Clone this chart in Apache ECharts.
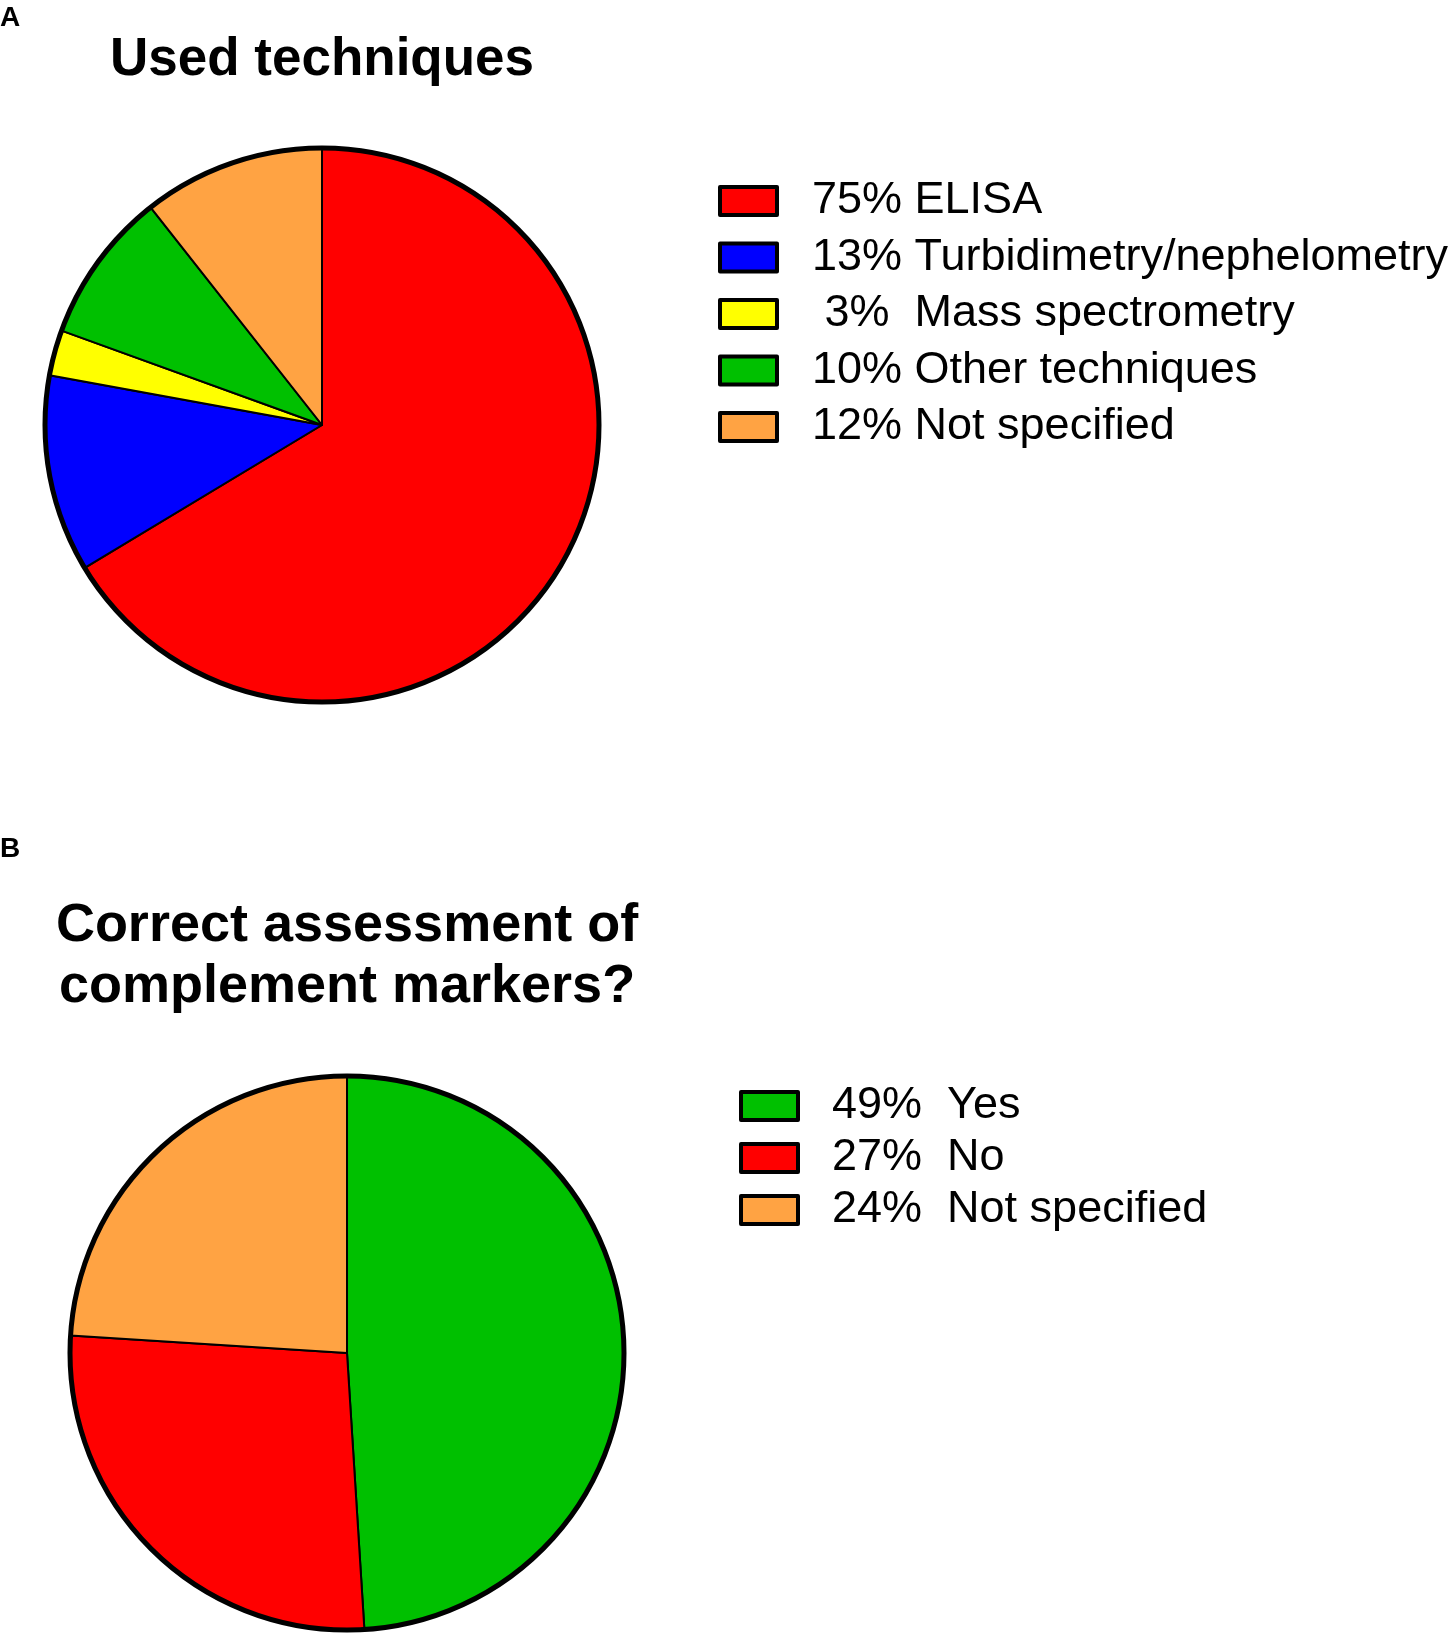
<!DOCTYPE html>
<html>
<head>
<meta charset="utf-8">
<script src="https://cdn.jsdelivr.net/npm/echarts@6/dist/echarts.min.js"></script>
<style>
html,body{margin:0;padding:0;background:#fff;}
#chart{width:1455px;height:1639px;}
</style>
</head>
<body>
<div id="chart"></div>
<script>
// Panel A: used techniques
const techCategories = ['ELISA', 'Turbidimetry/nephelometry', 'Mass spectrometry', 'Other techniques', 'Not specified'];
const techValues = [75, 13, 3, 10, 12];
const techPctLabels = ['75%', '13%', ' 3% ', '10%', '12%'];
const techColors = ['#FF0000', '#0000FF', '#FFFF00', '#00C000', '#FFA343'];

// Panel B: correct assessment of complement markers
const assessCategories = ['Yes', 'No', 'Not specified'];
const assessValues = [49, 27, 24];
const assessPctLabels = ['49%', '27%', '24%'];
const assessColors = ['#00C000', '#FF0000', '#FFA343'];

const FONT = '"Liberation Sans", Arial, Helvetica, sans-serif';

const chart = echarts.init(document.getElementById('chart'), null, {renderer: 'canvas'});

const techMap = {};
techCategories.forEach((c, i) => techMap[c] = techPctLabels[i] + ' ' + c);
const assessMap = {};
assessCategories.forEach((c, i) => assessMap['B_' + c] = assessPctLabels[i] + '  ' + c);

function pieData(cats, vals, cols, prefix) {
  return cats.map((c, i) => ({name: prefix + c, value: vals[i], itemStyle: {color: cols[i]}}));
}

const option = {
  backgroundColor: '#ffffff',
  animation: false,
  graphic: [
    {type: 'text', left: 0, top: 4, style: {text: 'A', font: 'bold 28px ' + FONT, fill: '#000'}},
    {type: 'text', left: 0, top: 835, style: {text: 'B', font: 'bold 28px ' + FONT, fill: '#000'}},
    {type: 'text', x: 322, y: 60, style: {text: 'Used techniques', font: 'bold 53px ' + FONT, fill: '#000', textAlign: 'center', textVerticalAlign: 'middle'}},
    {type: 'text', x: 347, y: 957, style: {text: 'Correct assessment of\ncomplement markers?', font: 'bold 54px ' + FONT, lineHeight: 61, fill: '#000', textAlign: 'center', textVerticalAlign: 'middle'}}
  ],
  legend: [
    {
      orient: 'vertical', left: 713, top: 171,
      data: techCategories,
      icon: 'rect', itemWidth: 57, itemHeight: 28, itemGap: 6.5,
      itemStyle: {borderColor: '#000', borderWidth: 4},
      selectedMode: false,
      formatter: n => techMap[n],
      textStyle: {fontFamily: FONT, fontSize: 45, color: '#000', lineHeight: 50, padding: [0, 0, 0, 30]}
    },
    {
      orient: 'vertical', left: 734, top: 1076,
      data: assessCategories.map(c => 'B_' + c),
      icon: 'rect', itemWidth: 57, itemHeight: 28, itemGap: 2,
      itemStyle: {borderColor: '#000', borderWidth: 4},
      selectedMode: false,
      formatter: n => assessMap[n],
      textStyle: {fontFamily: FONT, fontSize: 45, color: '#000', lineHeight: 50, padding: [0, 0, 0, 29]}
    }
  ],
  series: [
    {
      type: 'pie', center: [322, 425], radius: [0, 277], startAngle: 90, clockwise: true,
      label: {show: false}, labelLine: {show: false}, silent: true,
      itemStyle: {borderColor: '#000', borderWidth: 2},
      data: pieData(techCategories, techValues, techColors, '')
    },
    {
      type: 'pie', center: [347, 1353], radius: [0, 277], startAngle: 90, clockwise: true,
      label: {show: false}, labelLine: {show: false}, silent: true,
      itemStyle: {borderColor: '#000', borderWidth: 2},
      data: pieData(assessCategories, assessValues, assessColors, 'B_')
    },
    {
      type: 'pie', center: [322, 425], radius: [0, 277], silent: true, legendHoverLink: false,
      label: {show: false}, labelLine: {show: false},
      itemStyle: {color: 'rgba(0,0,0,0)', borderColor: '#000', borderWidth: 5},
      data: [{name: '_ringA', value: 1}]
    },
    {
      type: 'pie', center: [347, 1353], radius: [0, 277], silent: true, legendHoverLink: false,
      label: {show: false}, labelLine: {show: false},
      itemStyle: {color: 'rgba(0,0,0,0)', borderColor: '#000', borderWidth: 5},
      data: [{name: '_ringB', value: 1}]
    }
  ]
};
chart.setOption(option);
</script>
</body>
</html>
